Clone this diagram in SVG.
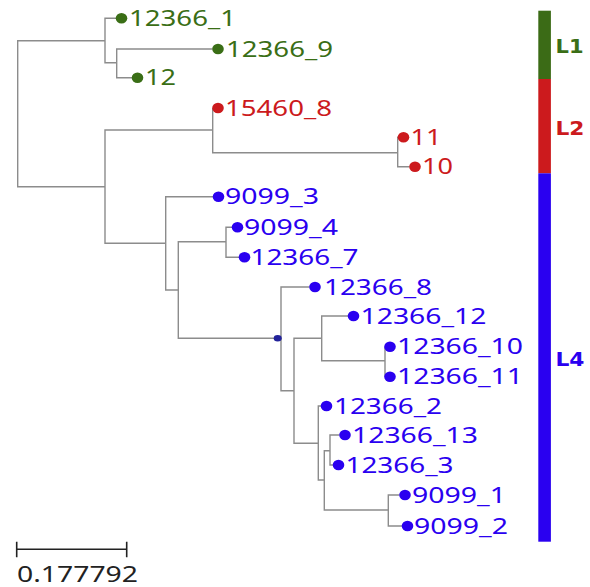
<svg xmlns="http://www.w3.org/2000/svg" width="590" height="587" viewBox="0 0 590 587">
<style>
.br{fill:none;stroke:#8c8c8c;stroke-width:1.4}
.lb{font-family:"Noto Sans","Open Sans",sans-serif;font-size:21px}
.g{fill:#3a6e16}
.r{fill:#cc1a1d}
.b{fill:#2a00f0}
.cl{font-family:"DejaVu Sans",sans-serif;font-weight:bold;font-size:19px}
</style>
<rect width="590" height="587" fill="#fff"/>
<g id="connectors">
<path class="br" d="M105 40.7H17.7V186.7H105
M116 18.3H105V62.7H116.7
M212.5 49H116.7V77.7H132
M212.7 130H105V243.3H165.7
M212.7 108V152.7H397.7
M398 137.3H397.7V166.7H409.5
M213 196.7H165.7V290H178.3
M226 241.7H178.3V338.3H281
M232 227.3H226V257.3H239
M309.5 287H281V390.7H294
M321.7 338.3H294V443.3H318.3
M348 316H321.7V360.7H385
M385 346.7V376.7
M321 406H318.3V480H324.3
M330 450.7H324.3V510H388.3
M339.5 435H330V465H333
M399.5 495H388.3V526H402"/>
<ellipse cx="277.7" cy="338.3" rx="4" ry="3.2" fill="#22229a"/>
</g>
<g id="n12366_1"><ellipse class="g" cx="121.5" cy="18.3" rx="5.8" ry="5.2"/><text class="lb g" x="129" y="26" textLength="107" lengthAdjust="spacingAndGlyphs">12366_1</text></g>
<g id="n12366_9"><ellipse class="g" cx="218" cy="49" rx="5.8" ry="5.2"/><text class="lb g" x="226" y="56.7" textLength="107" lengthAdjust="spacingAndGlyphs">12366_9</text></g>
<g id="n12"><ellipse class="g" cx="137.5" cy="77.7" rx="5.8" ry="5.2"/><text class="lb g" x="145" y="85.4" textLength="31" lengthAdjust="spacingAndGlyphs">12</text></g>
<g id="n15460_8"><ellipse class="r" cx="218" cy="108" rx="5.8" ry="5.2"/><text class="lb r" x="225" y="115.7" textLength="107" lengthAdjust="spacingAndGlyphs">15460_8</text></g>
<g id="n11"><ellipse class="r" cx="403.5" cy="137.3" rx="5.8" ry="5.2"/><text class="lb r" x="410.5" y="145" textLength="31" lengthAdjust="spacingAndGlyphs">11</text></g>
<g id="n10"><ellipse class="r" cx="415" cy="166.7" rx="5.8" ry="5.2"/><text class="lb r" x="422" y="174.4" textLength="31" lengthAdjust="spacingAndGlyphs">10</text></g>
<g id="n9099_3"><ellipse class="b" cx="218.5" cy="196.7" rx="5.8" ry="5.2"/><text class="lb b" x="225" y="204.4" textLength="94" lengthAdjust="spacingAndGlyphs">9099_3</text></g>
<g id="n9099_4"><ellipse class="b" cx="237.5" cy="227.3" rx="5.8" ry="5.2"/><text class="lb b" x="244" y="235" textLength="94" lengthAdjust="spacingAndGlyphs">9099_4</text></g>
<g id="n12366_7"><ellipse class="b" cx="244.5" cy="257.3" rx="5.8" ry="5.2"/><text class="lb b" x="250.5" y="265" textLength="108" lengthAdjust="spacingAndGlyphs">12366_7</text></g>
<g id="n12366_8"><ellipse class="b" cx="315" cy="287" rx="5.8" ry="5.2"/><text class="lb b" x="324" y="294.7" textLength="108" lengthAdjust="spacingAndGlyphs">12366_8</text></g>
<g id="n12366_12"><ellipse class="b" cx="353.5" cy="316" rx="5.8" ry="5.2"/><text class="lb b" x="360.5" y="323.7" textLength="126" lengthAdjust="spacingAndGlyphs">12366_12</text></g>
<g id="n12366_10"><ellipse class="b" cx="390" cy="346.7" rx="5.8" ry="5.2"/><text class="lb b" x="397" y="354.4" textLength="126" lengthAdjust="spacingAndGlyphs">12366_10</text></g>
<g id="n12366_11"><ellipse class="b" cx="390" cy="376.7" rx="5.8" ry="5.2"/><text class="lb b" x="397" y="384.4" textLength="126" lengthAdjust="spacingAndGlyphs">12366_11</text></g>
<g id="n12366_2"><ellipse class="b" cx="326.5" cy="406" rx="5.8" ry="5.2"/><text class="lb b" x="334" y="413.7" textLength="108" lengthAdjust="spacingAndGlyphs">12366_2</text></g>
<g id="n12366_13"><ellipse class="b" cx="345" cy="435" rx="5.8" ry="5.2"/><text class="lb b" x="352" y="442.7" textLength="126" lengthAdjust="spacingAndGlyphs">12366_13</text></g>
<g id="n12366_3"><ellipse class="b" cx="338.5" cy="465" rx="5.8" ry="5.2"/><text class="lb b" x="345.5" y="472.7" textLength="108" lengthAdjust="spacingAndGlyphs">12366_3</text></g>
<g id="n9099_1"><ellipse class="b" cx="405" cy="495" rx="5.8" ry="5.2"/><text class="lb b" x="412" y="502.7" textLength="94" lengthAdjust="spacingAndGlyphs">9099_1</text></g>
<g id="n9099_2"><ellipse class="b" cx="407.5" cy="526" rx="5.8" ry="5.2"/><text class="lb b" x="414" y="533.7" textLength="94" lengthAdjust="spacingAndGlyphs">9099_2</text></g>
<g id="clades">
<rect x="538.3" y="10.7" width="12.6" height="68.3" fill="#3b6b16"/>
<rect x="538.3" y="79" width="12.6" height="94.3" fill="#cc1a1d"/>
<rect x="538.3" y="173.3" width="12.6" height="368.4" fill="#2a00f0"/>
<text class="cl g" x="555.5" y="53" textLength="28" lengthAdjust="spacingAndGlyphs">L1</text>
<text class="cl r" x="555.5" y="135" textLength="29" lengthAdjust="spacingAndGlyphs">L2</text>
<text class="cl b" x="555.5" y="365.7" textLength="29" lengthAdjust="spacingAndGlyphs">L4</text>
</g>
<g id="scale">
<path d="M16.7 549.3H126.7M16.7 541.7V557.3M126.7 541.7V557.3" fill="none" stroke="#222" stroke-width="1.6"/>
<text x="17" y="581.7" font-family="Noto Sans,Open Sans,sans-serif" font-size="21" fill="#222" textLength="121" lengthAdjust="spacingAndGlyphs">0.177792</text>
</g>
</svg>
